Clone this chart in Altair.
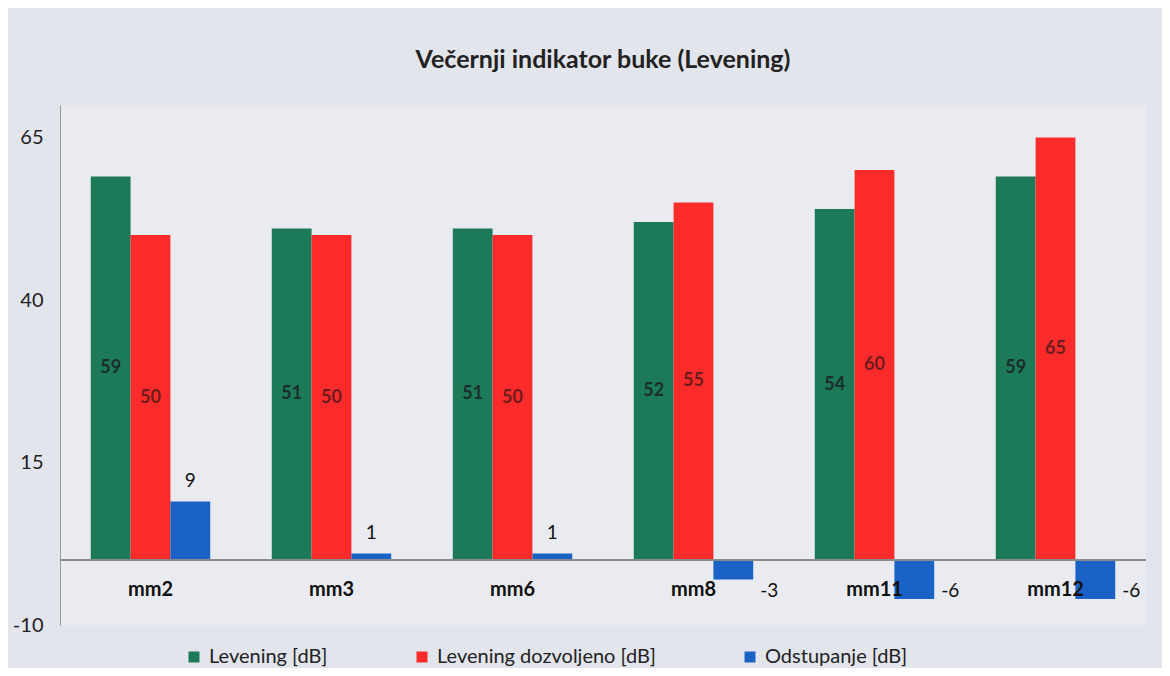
import altair as alt
import pandas as pd

categories = ["mm2", "mm3", "mm6", "mm8", "mm11", "mm12"]
series_names = ["Levening [dB]", "Levening dozvoljeno [dB]", "Odstupanje [dB]"]
levening = [59, 51, 51, 52, 54, 59]
dozvoljeno = [50, 50, 50, 55, 60, 65]
odstupanje = [9, 1, 1, -3, -6, -6]
colors = ["#1c7a58", "#fb2b2b", "#1a62c6"]
y_ticks = [-10, 15, 40, 65]

rows = []
for i, c in enumerate(categories):
    for s, vals in zip(series_names, [levening, dozvoljeno, odstupanje]):
        rows.append({"cat": c, "series": s, "value": vals[i]})
df = pd.DataFrame(rows)
cat_df = pd.DataFrame({"cat": categories})

FONT = "Lato"

x_enc = alt.X("cat:N", sort=categories, axis=None,
              scale=alt.Scale(paddingInner=0.34, paddingOuter=0.17))
xoff = alt.XOffset("series:N", sort=series_names,
                   scale=alt.Scale(paddingInner=0, paddingOuter=0))
y_scale = alt.Scale(domain=[-10, 70], nice=False, zero=False)

base = alt.Chart(df).transform_calculate(lab="'' + datum.value")

bars = base.mark_bar().encode(
    x=x_enc,
    xOffset=xoff,
    y=alt.Y("value:Q", scale=y_scale, title=None,
            axis=alt.Axis(values=y_ticks, grid=False, ticks=False,
                          domainColor="#9a9a9a", labelFontSize=20,
                          labelColor="#222222", labelPadding=17,
                          labelFont=FONT, labelExpr="'' + datum.value")),
    color=alt.Color("series:N", sort=series_names,
                    scale=alt.Scale(domain=series_names, range=colors),
                    legend=alt.Legend(title=None, orient="none",
                                      legendX=124, legendY=542,
                                      direction="horizontal",
                                      symbolType="square", symbolSize=121,
                                      symbolStrokeWidth=0, symbolOpacity=1,
                                      labelFontSize=20, labelFont=FONT,
                                      labelColor="#222222", labelLimit=400,
                                      columnPadding=84, labelOffset=5)),
)

zero_rule = alt.Chart(cat_df).mark_rule(color="#8a8a8a", strokeWidth=1).encode(
    y=alt.datum(0)
)

green_lab = base.transform_filter(
    alt.datum.series == series_names[0]
).transform_calculate(mid="datum.value/2").mark_text(
    font=FONT, fontSize=18, fontWeight="bold", color="#1b2d2d"
).encode(x=x_enc, xOffset=xoff, y=alt.Y("mid:Q", scale=y_scale), text="lab:N")

red_lab = base.transform_filter(
    alt.datum.series == series_names[1]
).transform_calculate(mid="datum.value/2").mark_text(
    font=FONT, fontSize=18, fontWeight="bold", color="#6e1b1b"
).encode(x=x_enc, xOffset=xoff, y=alt.Y("mid:Q", scale=y_scale), text="lab:N")

blue_pos = base.transform_filter(
    (alt.datum.series == series_names[2]) & (alt.datum.value > 0)
).mark_text(font=FONT, fontSize=19, color="#111111", dy=-21).encode(
    x=x_enc, xOffset=xoff, y=alt.Y("value:Q", scale=y_scale), text="lab:N")

blue_neg = base.transform_filter(
    (alt.datum.series == series_names[2]) & (alt.datum.value < 0)
).mark_text(font=FONT, fontSize=19, color="#111111", dy=31, dx=36).encode(
    x=x_enc, xOffset=xoff, y=alt.datum(0), text="lab:N")

cat_lab = alt.Chart(cat_df).mark_text(
    font=FONT, fontSize=20, fontWeight="bold", color="#111111", dy=30
).encode(x=x_enc, y=alt.datum(0), text="cat:N")

chart = alt.layer(
    bars, zero_rule, green_lab, red_lab, blue_pos, blue_neg, cat_lab
).properties(
    width=1086, height=520,
    title=alt.Title("Večernji indikator buke (Levening)", font=FONT,
                    fontSize=25, fontWeight="bold", color="#222222",
                    anchor="middle", offset=32),
    autosize=alt.AutoSizeParams(type="none"),
    padding={"left": 52, "top": 97, "right": 16, "bottom": 43},
    background="#e2e5eb",
).configure_view(fill="#eaebf1", stroke=None)

chart.save("out.html", embed_options={"renderer": "svg", "actions": False})
